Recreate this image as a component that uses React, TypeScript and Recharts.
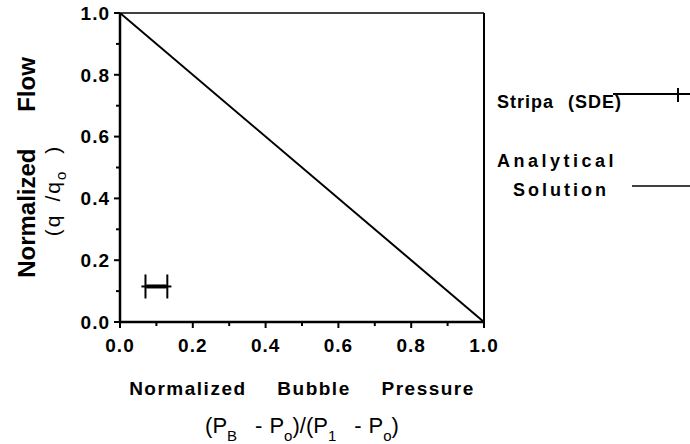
import { ComposedChart, Line, Scatter, ErrorBar, XAxis, YAxis, ReferenceLine, Legend, Label } from 'recharts';

// analytical solution: q/qo = 1 - (PB-Po)/(P1-Po)
const analyticalX = [0, 1];
const analyticalY = [1, 0];

// Stripa (SDE) measurement with horizontal error bar
const stripaX = [0.1];
const stripaY = [0.115];
const stripaErr = [0.03];

const majorTicks = [0, 0.2, 0.4, 0.6, 0.8, 1.0];
const minorTicks = [0.1, 0.3, 0.5, 0.7, 0.9];

const analytical = analyticalX.map((x, i) => ({ x, y: analyticalY[i] }));
const stripa = stripaX.map((x, i) => ({ x, y: stripaY[i], err: stripaErr[i] }));
const allTicks = [...majorTicks, ...minorTicks].sort((a, b) => a - b);

const font = "'Liberation Sans', Arial, Helvetica, sans-serif";

const isMajor = (v: number) => majorTicks.some((t) => Math.abs(t - v) < 1e-6);

const XTick = (props: any) => {
  const { x, y, payload } = props;
  const major = isMajor(payload.value);
  return (
    <g>
      <line x1={x} y1={y} x2={x} y2={y + (major ? 6 : 4)} stroke="#000" strokeWidth={2} />
      {major && (
        <text x={x} y={y + 30} textAnchor="middle" fontSize={19} fontWeight="bold" letterSpacing={1} fill="#000" fontFamily={font}>
          {payload.value.toFixed(1)}
        </text>
      )}
    </g>
  );
};

const YTick = (props: any) => {
  const { x, y, payload } = props;
  const major = isMajor(payload.value);
  return (
    <g>
      <line x1={x - (major ? 6 : 4)} y1={y} x2={x} y2={y} stroke="#000" strokeWidth={2} />
      {major && (
        <text x={x - 10} y={y} dy="0.36em" textAnchor="end" fontSize={19} fontWeight="bold" letterSpacing={1} fill="#000" fontFamily={font}>
          {payload.value.toFixed(1)}
        </text>
      )}
    </g>
  );
};

const XTitle = (props: any) => {
  const { x, y, width } = props.viewBox;
  const cx = x + width / 2;
  return (
    <g fontFamily={font} fill="#000">
      <text x={cx} y={y + 73} textAnchor="middle" fontSize={19} fontWeight="bold" letterSpacing={1.5} wordSpacing={24}>
        Normalized Bubble Pressure
      </text>
      <text x={cx} y={y + 111} textAnchor="middle" fontSize={22}>
        <tspan>(P</tspan>
        <tspan dy={8} fontSize={15}>B</tspan>
        <tspan dy={-8} dx={18}>-</tspan>
        <tspan dx={7}>P</tspan>
        <tspan dy={8} fontSize={15}>o</tspan>
        <tspan dy={-8}>)/(P</tspan>
        <tspan dy={8} fontSize={15}>1</tspan>
        <tspan dy={-8} dx={18}>-</tspan>
        <tspan dx={7}>P</tspan>
        <tspan dy={8} fontSize={15}>o</tspan>
        <tspan dy={-8}>)</tspan>
      </text>
    </g>
  );
};

const YTitle = (props: any) => {
  const { y, height } = props.viewBox;
  const cy = y + height / 2;
  return (
    <g fontFamily={font} fill="#000">
      <text x={35} y={cy} transform={`rotate(-90, 35, ${cy})`} textAnchor="middle" fontSize={24} fontWeight="bold" wordSpacing={30}>
        Normalized Flow
      </text>
      <text x={60} y={cy + 23} transform={`rotate(-90, 60, ${cy + 23})`} textAnchor="middle" fontSize={21} letterSpacing={2}>
        <tspan>(q</tspan>
        <tspan dx={12}>/q</tspan>
        <tspan dy={6} fontSize={15}>o</tspan>
        <tspan dy={-6} dx={16}>)</tspan>
      </text>
    </g>
  );
};

const renderLegend = () => (
  <svg width={200} height={130} style={{ fontFamily: font }}>
    <text x={7} y={28} fontSize={18} fontWeight="bold" letterSpacing={1} wordSpacing={8} fill="#000">
      Stripa (SDE)
    </text>
    <line x1={123} y1={14} x2={200} y2={14} stroke="#000" strokeWidth={2} />
    <line x1={188} y1={8} x2={188} y2={22} stroke="#000" strokeWidth={2} />
    <text x={7} y={87} fontSize={18} fontWeight="bold" letterSpacing={3.5} fill="#000">
      Analytical
    </text>
    <text x={23} y={116} fontSize={18} fontWeight="bold" letterSpacing={3} fill="#000">
      Solution
    </text>
    <line x1={142} y1={106} x2={200} y2={106} stroke="#000" strokeWidth={1.5} />
  </svg>
);

const StripaMark = (props: any) => {
  const { cx, cy } = props;
  return (
    <g>
      <line x1={cx - 15} y1={cy} x2={cx + 15} y2={cy} stroke="#000" strokeWidth={2} />
      <line x1={cx - 10} y1={cy} x2={cx + 10} y2={cy} stroke="#000" strokeWidth={4} />
    </g>
  );
};

export default function App() {
  return (
    <div style={{ position: 'absolute', left: 0, top: 0, width: 690, height: 444, background: '#fff' }}>
      <ComposedChart width={690} height={444} margin={{ top: 13, right: 206, bottom: 0, left: 0 }}>
        <XAxis
          type="number"
          dataKey="x"
          domain={[0, 1]}
          ticks={allTicks}
          interval={0}
          tickSize={0}
          tickMargin={0}
          tick={<XTick />}
          height={122}
          axisLine={{ stroke: '#000', strokeWidth: 2.5 }}
          allowDataOverflow
        >
          <Label content={<XTitle />} />
        </XAxis>
        <YAxis
          type="number"
          dataKey="y"
          domain={[0, 1]}
          ticks={allTicks}
          interval={0}
          tickSize={0}
          tickMargin={0}
          tick={<YTick />}
          width={120}
          axisLine={{ stroke: '#000', strokeWidth: 2.5 }}
          allowDataOverflow
        >
          <Label content={<YTitle />} />
        </YAxis>
        <ReferenceLine y={1} stroke="#000" strokeWidth={1.5} />
        <ReferenceLine x={1} stroke="#000" strokeWidth={2} />
        <Line data={analytical} dataKey="y" type="linear" stroke="#000" strokeWidth={2} dot={false} isAnimationActive={false} />
        <Scatter data={stripa} dataKey="y" shape={<StripaMark />} isAnimationActive={false}>
          <ErrorBar dataKey="err" direction="x" width={12} strokeWidth={2} stroke="#000" />
        </Scatter>
        <Legend
          layout="horizontal"
          verticalAlign="middle"
          align="center"
          content={renderLegend}
          wrapperStyle={{ position: 'absolute', left: 490, top: 80, width: 200, height: 130 }}
        />
      </ComposedChart>
    </div>
  );
}
